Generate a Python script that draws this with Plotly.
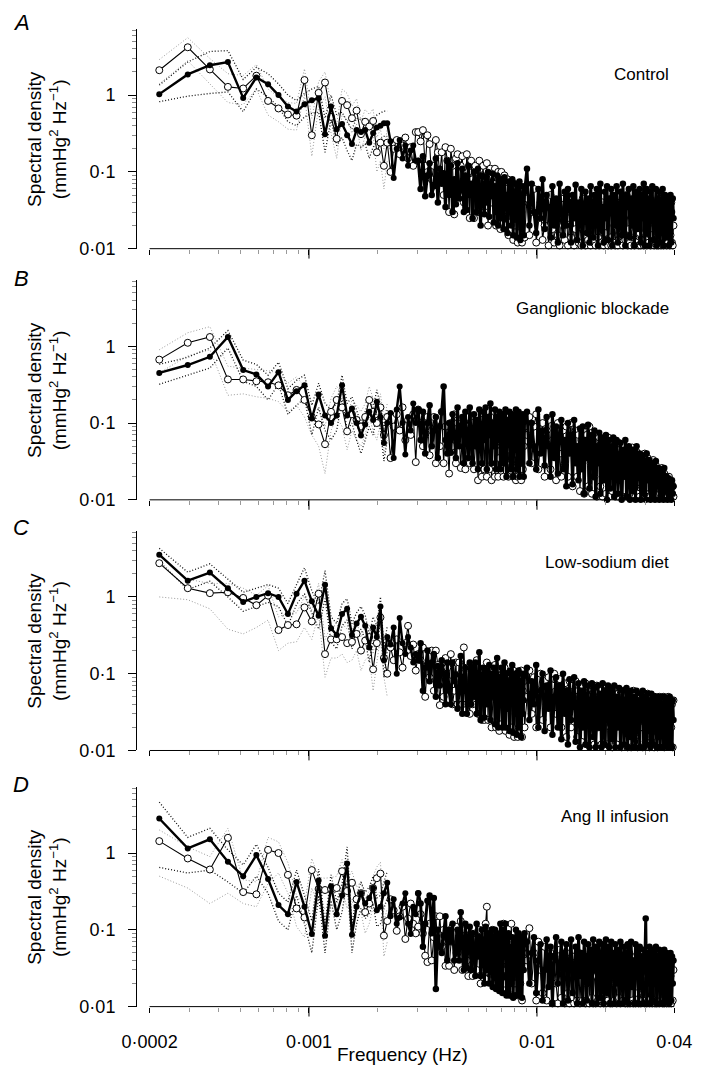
import math
import plotly.graph_objects as go

# ---------------- data ----------------
F0 = 0.0000735  # fundamental frequency of the spectra (Hz)
K = list(range(3, 121)) + list(range(123, 301, 3)) + list(range(304, 541, 4))
FREQ = [F0 * k for k in K]
NB = 28
FREQ_BAND = FREQ[:NB]
N_LOW = 38  # harmonics 3..40 are drawn as separate, resolved points

X_TICKS = [0.0002, 0.001, 0.01, 0.04]
X_TICKTEXT = ["0·0002", "0·001", "0·01", "0·04"]
X_MINOR = [0.0003, 0.0004, 0.0005, 0.0006, 0.0007, 0.0008, 0.0009,
           0.002, 0.003, 0.004, 0.005, 0.006, 0.007, 0.008, 0.009, 0.02, 0.03]
Y_TICKS = [0.01, 0.1, 1]
Y_TICKTEXT = ["0·01", "0·1", "1"]
Y_MINOR = [0.02, 0.03, 0.04, 0.05, 0.06, 0.07, 0.08, 0.09,
           0.2, 0.3, 0.4, 0.5, 0.6, 0.7, 0.8, 0.9, 2, 3, 4, 5, 6, 7]
PANEL_LETTERS = ["A", "B", "C", "D"]
CONDITIONS = ["Control", "Ganglionic blockade", "Low-sodium diet", "Ang II infusion"]

# ---- A: Control ----
A_FILLED_LOW = [1.03, 1.86, 2.45, 2.7, 0.92, 1.7, 1.39, 1.0, 0.71, 0.61,
                0.76, 0.86, 0.91, 0.31, 0.71, 0.36, 0.42, 0.30, 0.23, 0.35,
                0.33, 0.35, 0.24, 0.32, 0.38, 0.40, 0.43, 0.43, 0.25, 0.083,
                0.20, 0.26, 0.15, 0.22, 0.12, 0.19, 0.22, 0.14]
A_FILLED_MID = [0.14, 0.06, 0.16, 0.048, 0.09, 0.13, 0.05, 0.065, 0.15, 0.04,
                0.11, 0.07, 0.096, 0.035, 0.14, 0.05, 0.12, 0.03, 0.08, 0.038,
                0.13, 0.045, 0.06, 0.11, 0.03, 0.09, 0.032, 0.12, 0.05, 0.07,
                0.025, 0.1, 0.076, 0.03, 0.11, 0.045, 0.02, 0.09, 0.06, 0.028,
                0.085, 0.04, 0.1, 0.026, 0.07, 0.05, 0.095, 0.022, 0.065, 0.03,
                0.09, 0.02, 0.06, 0.08, 0.025, 0.07, 0.018, 0.085, 0.035, 0.05,
                0.016, 0.075, 0.03, 0.065, 0.02, 0.08, 0.015, 0.055, 0.04, 0.07,
                0.014, 0.06, 0.025, 0.075, 0.013, 0.05, 0.03, 0.065, 0.015, 0.055]
A_FILLED_HIGH = [0.11, 0.02, 0.07, 0.03, 0.016, 0.06, 0.025, 0.08, 0.018, 0.05,
                 0.035, 0.014, 0.065, 0.02, 0.045, 0.012, 0.07, 0.03, 0.015, 0.055,
                 0.02, 0.06, 0.04, 0.012, 0.05, 0.025, 0.068, 0.013, 0.04, 0.02,
                 0.06, 0.011, 0.035, 0.055, 0.016, 0.045, 0.012, 0.065, 0.03, 0.014,
                 0.05, 0.02, 0.06, 0.011, 0.04, 0.07, 0.018, 0.035, 0.012, 0.055,
                 0.025, 0.065, 0.013, 0.045, 0.03, 0.06, 0.011, 0.05, 0.02, 0.04,
                 0.065, 0.012, 0.03, 0.055, 0.015, 0.07, 0.025, 0.011, 0.05, 0.035,
                 0.06, 0.014, 0.045, 0.02, 0.065, 0.011, 0.04, 0.055, 0.018, 0.03,
                 0.06, 0.012, 0.05, 0.025, 0.07, 0.011, 0.035, 0.06, 0.016, 0.045,
                 0.011, 0.055, 0.03, 0.065, 0.013, 0.04, 0.02, 0.06, 0.011, 0.045,
                 0.035, 0.055, 0.012, 0.04, 0.025, 0.06, 0.011, 0.03, 0.05, 0.014,
                 0.045, 0.02, 0.04, 0.011, 0.035, 0.05, 0.012, 0.03, 0.045, 0.025]
A_OPEN_LOW = [2.11, 4.2, 2.16, 1.28, 1.22, 1.79, 0.84, 0.67, 0.56, 0.54,
              1.57, 0.30, 1.07, 1.46, 0.52, 0.27, 0.84, 0.74, 0.50, 0.63,
              0.31, 0.45, 0.39, 0.46, 0.18, 0.24, 0.12, 0.24, 0.10, 0.20,
              0.26, 0.17, 0.22, 0.28, 0.15, 0.21, 0.12, 0.33]
A_OPEN_MID = [0.33, 0.25, 0.35, 0.12, 0.3, 0.23, 0.08, 0.12, 0.26, 0.18,
              0.09, 0.18, 0.05, 0.21, 0.14, 0.03, 0.2, 0.12, 0.028, 0.15,
              0.17, 0.05, 0.12, 0.16, 0.04, 0.06, 0.17, 0.1, 0.025, 0.14,
              0.08, 0.025, 0.12, 0.1, 0.03, 0.14, 0.05, 0.09, 0.12, 0.03,
              0.08, 0.13, 0.02, 0.06, 0.11, 0.04, 0.09, 0.07, 0.11, 0.02,
              0.035, 0.1, 0.07, 0.018, 0.1, 0.03, 0.06, 0.09, 0.02, 0.06,
              0.08, 0.015, 0.05, 0.022, 0.07, 0.05, 0.013, 0.07, 0.02, 0.04,
              0.06, 0.012, 0.045, 0.016, 0.035, 0.06, 0.012, 0.04, 0.05, 0.014]
A_OPEN_HIGH = [0.045, 0.015, 0.03, 0.06, 0.012, 0.025, 0.04, 0.013, 0.02, 0.035,
               0.011, 0.05, 0.018, 0.012, 0.03, 0.015, 0.011, 0.045, 0.02, 0.013,
               0.035, 0.011, 0.025, 0.014, 0.04, 0.011, 0.018, 0.03, 0.012, 0.022,
               0.011, 0.045, 0.015, 0.011, 0.025, 0.013, 0.035, 0.011, 0.02, 0.012,
               0.03, 0.011, 0.05, 0.014, 0.011, 0.022, 0.012, 0.04, 0.011, 0.016,
               0.012, 0.028, 0.011, 0.035, 0.014, 0.011, 0.045, 0.012, 0.02, 0.011,
               0.03, 0.011, 0.015, 0.04, 0.012, 0.011, 0.025, 0.013, 0.05, 0.011,
               0.018, 0.012, 0.011, 0.035, 0.014, 0.011, 0.022, 0.012, 0.04, 0.011,
               0.016, 0.011, 0.03, 0.012, 0.011, 0.045, 0.013, 0.011, 0.02, 0.012,
               0.035, 0.011, 0.015, 0.012, 0.028, 0.011, 0.04, 0.012, 0.011, 0.02,
               0.011, 0.03, 0.012, 0.011, 0.045, 0.014, 0.011, 0.022, 0.012, 0.035,
               0.011, 0.018, 0.012, 0.03, 0.011, 0.015, 0.04, 0.012, 0.011, 0.02]
A_FILLED_UP = [1.35, 2.7, 3.7, 3.8, 1.6, 2.3, 1.9, 1.4, 1.0, 0.85, 1.05, 1.2, 1.3, 0.5,
               1.0, 0.55, 0.6, 0.45, 0.36, 0.5, 0.48, 0.5, 0.36, 0.46, 0.55, 0.58, 0.62, 0.62]
A_FILLED_DN = [0.82, 0.97, 1.05, 1.1, 0.61, 1.2, 0.95, 0.7, 0.45, 0.4, 0.52, 0.58, 0.6, 0.18,
               0.48, 0.22, 0.28, 0.19, 0.14, 0.23, 0.21, 0.23, 0.15, 0.21, 0.25, 0.27, 0.29, 0.29]
A_OPEN_UP = [2.9, 5.6, 3.0, 1.9, 1.8, 2.5, 1.2, 0.95, 0.8, 0.78, 2.2, 0.5, 1.5, 2.0,
             0.75, 0.42, 1.2, 1.05, 0.72, 0.9, 0.46, 0.65, 0.56, 0.66, 0.28, 0.36, 0.2, 0.36]
A_OPEN_DN = [1.4, 2.8, 1.4, 0.8, 0.75, 1.2, 0.55, 0.45, 0.36, 0.35, 1.0, 0.16, 0.7, 0.95,
             0.32, 0.15, 0.55, 0.48, 0.32, 0.42, 0.19, 0.29, 0.25, 0.3, 0.1, 0.14, 0.06, 0.14]

# ---- B: Ganglionic blockade ----
B_FILLED_LOW = [0.45, 0.57, 0.73, 1.32, 0.49, 0.43, 0.30, 0.46, 0.20, 0.26,
                0.31, 0.115, 0.235, 0.125, 0.10, 0.125, 0.31, 0.125, 0.155, 0.10,
                0.069, 0.096, 0.14, 0.11, 0.19, 0.12, 0.055, 0.10, 0.135, 0.035,
                0.15, 0.30, 0.10, 0.039, 0.12, 0.08, 0.18, 0.10]
B_FILLED_MID = [0.15, 0.06, 0.14, 0.04, 0.1, 0.17, 0.05, 0.08, 0.12, 0.035,
                0.09, 0.14, 0.3, 0.06, 0.04, 0.1, 0.041, 0.13, 0.07, 0.035,
                0.16, 0.05, 0.09, 0.12, 0.03, 0.14, 0.06, 0.035, 0.16, 0.08,
                0.03, 0.13, 0.05, 0.11, 0.025, 0.15, 0.07, 0.03, 0.14, 0.06,
                0.16, 0.025, 0.12, 0.07, 0.18, 0.03, 0.1, 0.05, 0.15, 0.025,
                0.12, 0.06, 0.14, 0.025, 0.09, 0.13, 0.03, 0.1, 0.15, 0.02,
                0.11, 0.06, 0.14, 0.025, 0.08, 0.13, 0.02, 0.12, 0.05, 0.15,
                0.025, 0.1, 0.14, 0.02, 0.07, 0.12, 0.03, 0.13, 0.02, 0.11]
B_FILLED_HIGH = [0.14, 0.03, 0.1, 0.05, 0.025, 0.15, 0.04, 0.08, 0.028, 0.12,
                 0.05, 0.02, 0.13, 0.035, 0.09, 0.022, 0.07, 0.11, 0.025, 0.06,
                 0.015, 0.1, 0.04, 0.07, 0.016, 0.11, 0.03, 0.05, 0.018, 0.085,
                 0.025, 0.09, 0.012, 0.06, 0.035, 0.095, 0.014, 0.05, 0.07, 0.02,
                 0.08, 0.011, 0.05, 0.03, 0.075, 0.012, 0.045, 0.065, 0.018, 0.04,
                 0.07, 0.01, 0.035, 0.06, 0.014, 0.05, 0.02, 0.065, 0.011, 0.04,
                 0.06, 0.012, 0.03, 0.055, 0.01, 0.045, 0.02, 0.06, 0.011, 0.035,
                 0.05, 0.01, 0.03, 0.045, 0.013, 0.04, 0.01, 0.05, 0.02, 0.035,
                 0.04, 0.01, 0.025, 0.038, 0.012, 0.032, 0.01, 0.04, 0.018, 0.028,
                 0.033, 0.01, 0.022, 0.03, 0.011, 0.027, 0.01, 0.032, 0.015, 0.024,
                 0.026, 0.01, 0.018, 0.025, 0.011, 0.022, 0.01, 0.026, 0.013, 0.02,
                 0.02, 0.01, 0.015, 0.019, 0.011, 0.017, 0.01, 0.018, 0.012, 0.015]
B_OPEN_LOW = [0.67, 1.11, 1.32, 0.37, 0.37, 0.35, 0.34, 0.31, 0.23, 0.27,
              0.20, 0.12, 0.096, 0.053, 0.14, 0.20, 0.16, 0.078, 0.13, 0.11,
              0.09, 0.12, 0.20, 0.14, 0.10, 0.16, 0.07, 0.12, 0.035, 0.09,
              0.13, 0.08, 0.16, 0.06, 0.11, 0.07, 0.13, 0.031]
B_OPEN_MID = [0.15, 0.1, 0.05, 0.07, 0.12, 0.038, 0.08, 0.12, 0.03, 0.09,
              0.05, 0.14, 0.03, 0.09, 0.06, 0.022, 0.1, 0.05, 0.13, 0.03,
              0.1, 0.07, 0.026, 0.08, 0.11, 0.025, 0.09, 0.12, 0.03, 0.07,
              0.1, 0.025, 0.06, 0.09, 0.018, 0.07, 0.11, 0.02, 0.08, 0.025,
              0.1, 0.02, 0.07, 0.025, 0.12, 0.018, 0.09, 0.06, 0.02, 0.08,
              0.11, 0.02, 0.035, 0.08, 0.05, 0.1, 0.02, 0.07, 0.12, 0.03,
              0.045, 0.02, 0.08, 0.06, 0.03, 0.09, 0.02, 0.1, 0.04, 0.018,
              0.07, 0.02, 0.09, 0.03, 0.06, 0.018, 0.08, 0.025, 0.05, 0.09]
B_OPEN_HIGH = [0.07, 0.12, 0.03, 0.09, 0.13, 0.025, 0.06, 0.1, 0.02, 0.08,
               0.11, 0.025, 0.06, 0.09, 0.018, 0.1, 0.04, 0.02, 0.08, 0.03,
               0.09, 0.02, 0.06, 0.1, 0.015, 0.05, 0.08, 0.02, 0.07, 0.013,
               0.06, 0.08, 0.012, 0.045, 0.07, 0.015, 0.09, 0.03, 0.012, 0.06,
               0.02, 0.07, 0.011, 0.05, 0.065, 0.015, 0.04, 0.011, 0.06, 0.025,
               0.012, 0.05, 0.065, 0.011, 0.03, 0.055, 0.013, 0.04, 0.06, 0.011,
               0.045, 0.011, 0.055, 0.02, 0.04, 0.011, 0.05, 0.03, 0.011, 0.045,
               0.013, 0.04, 0.011, 0.048, 0.02, 0.035, 0.011, 0.042, 0.012, 0.03,
               0.011, 0.038, 0.015, 0.03, 0.011, 0.04, 0.012, 0.025, 0.035, 0.011,
               0.03, 0.011, 0.025, 0.012, 0.033, 0.011, 0.02, 0.028, 0.011, 0.025,
               0.011, 0.024, 0.012, 0.02, 0.026, 0.011, 0.018, 0.022, 0.011, 0.02,
               0.012, 0.018, 0.011, 0.02, 0.014, 0.011, 0.017, 0.012, 0.015, 0.011]
B_FILLED_UP = [0.58, 0.72, 0.95, 1.6, 0.66, 0.58, 0.42, 0.62, 0.28, 0.36, 0.42, 0.17, 0.33, 0.18,
               0.15, 0.18, 0.42, 0.18, 0.22, 0.15, 0.1, 0.14, 0.2, 0.16, 0.27, 0.17, 0.085, 0.15]
B_FILLED_DN = [0.32, 0.42, 0.52, 0.95, 0.35, 0.3, 0.2, 0.32, 0.13, 0.17, 0.21, 0.07, 0.16, 0.08,
               0.06, 0.08, 0.21, 0.08, 0.1, 0.06, 0.04, 0.06, 0.09, 0.07, 0.13, 0.08, 0.032, 0.06]
B_OPEN_UP = [0.9, 1.5, 1.8, 0.55, 0.52, 0.5, 0.48, 0.45, 0.33, 0.4, 0.3, 0.18, 0.15, 0.09,
             0.21, 0.3, 0.24, 0.12, 0.2, 0.17, 0.14, 0.18, 0.3, 0.21, 0.15, 0.24, 0.11, 0.18]
B_OPEN_DN = [0.45, 0.75, 0.9, 0.23, 0.24, 0.22, 0.21, 0.19, 0.14, 0.17, 0.12, 0.07, 0.05, 0.022,
             0.08, 0.12, 0.09, 0.045, 0.08, 0.06, 0.05, 0.07, 0.12, 0.08, 0.06, 0.1, 0.04, 0.07]

# ---- C: Low-sodium diet ----
C_FILLED_LOW = [3.55, 1.63, 2.08, 1.30, 0.86, 1.0, 1.12, 1.0, 0.60, 1.1,
                1.63, 0.88, 0.57, 1.44, 0.39, 0.32, 0.60, 0.70, 0.32, 0.45,
                0.55, 0.42, 0.22, 0.40, 0.30, 0.75, 0.15, 0.30, 0.24, 0.40,
                0.10, 0.53, 0.25, 0.18, 0.30, 0.22, 0.14, 0.18]
C_FILLED_MID = [0.15, 0.25, 0.06, 0.12, 0.2, 0.08, 0.14, 0.18, 0.05, 0.126,
                0.07, 0.15, 0.1, 0.04, 0.14, 0.06, 0.04, 0.14, 0.08, 0.098,
                0.035, 0.06, 0.17, 0.03, 0.09, 0.12, 0.03, 0.05, 0.14, 0.04,
                0.12, 0.05, 0.14, 0.03, 0.1, 0.19, 0.025, 0.08, 0.12, 0.027,
                0.11, 0.04, 0.07, 0.13, 0.025, 0.1, 0.05, 0.12, 0.022, 0.1,
                0.16, 0.02, 0.09, 0.04, 0.12, 0.02, 0.06, 0.14, 0.02, 0.1,
                0.035, 0.08, 0.018, 0.11, 0.05, 0.13, 0.017, 0.09, 0.03, 0.1,
                0.016, 0.07, 0.11, 0.02, 0.08, 0.015, 0.1, 0.03, 0.045, 0.1]
C_FILLED_HIGH = [0.12, 0.025, 0.08, 0.04, 0.13, 0.02, 0.06, 0.1, 0.018, 0.07,
                 0.035, 0.11, 0.016, 0.05, 0.09, 0.02, 0.07, 0.014, 0.1, 0.03,
                 0.06, 0.012, 0.085, 0.025, 0.05, 0.09, 0.013, 0.04, 0.075, 0.011,
                 0.06, 0.02, 0.08, 0.012, 0.045, 0.07, 0.011, 0.03, 0.075, 0.015,
                 0.065, 0.011, 0.04, 0.07, 0.02, 0.055, 0.011, 0.075, 0.03, 0.012,
                 0.06, 0.025, 0.07, 0.011, 0.045, 0.065, 0.014, 0.035, 0.07, 0.011,
                 0.05, 0.02, 0.065, 0.011, 0.04, 0.06, 0.012, 0.03, 0.065, 0.011,
                 0.055, 0.015, 0.06, 0.011, 0.035, 0.05, 0.011, 0.06, 0.02, 0.045,
                 0.011, 0.055, 0.025, 0.06, 0.011, 0.04, 0.05, 0.012, 0.055, 0.018,
                 0.045, 0.011, 0.055, 0.03, 0.012, 0.05, 0.02, 0.045, 0.011, 0.05,
                 0.015, 0.045, 0.011, 0.05, 0.025, 0.04, 0.011, 0.05, 0.012, 0.04,
                 0.02, 0.045, 0.011, 0.035, 0.05, 0.012, 0.04, 0.011, 0.045, 0.025]
C_OPEN_LOW = [2.75, 1.30, 1.12, 1.15, 0.97, 0.78, 1.04, 0.37, 0.43, 0.44,
              0.73, 0.48, 1.10, 0.18, 0.28, 0.28, 0.30, 0.25, 0.26, 0.33,
              0.20, 0.27, 0.30, 0.114, 0.25, 0.54, 0.16, 0.10, 0.22, 0.15,
              0.28, 0.19, 0.12, 0.25, 0.42, 0.17, 0.24, 0.11]
C_OPEN_MID = [0.18, 0.15, 0.22, 0.05, 0.13, 0.09, 0.2, 0.06, 0.2, 0.13,
              0.039, 0.12, 0.05, 0.16, 0.12, 0.08, 0.18, 0.04, 0.06, 0.14,
              0.04, 0.14, 0.1, 0.04, 0.22, 0.07, 0.12, 0.04, 0.03, 0.12,
              0.04, 0.1, 0.06, 0.15, 0.03, 0.09, 0.06, 0.025, 0.09, 0.025,
              0.09, 0.14, 0.025, 0.08, 0.11, 0.02, 0.05, 0.08, 0.13, 0.02,
              0.09, 0.05, 0.018, 0.07, 0.022, 0.1, 0.07, 0.12, 0.018, 0.04,
              0.08, 0.1, 0.016, 0.05, 0.07, 0.02, 0.11, 0.015, 0.06, 0.08,
              0.1, 0.015, 0.05, 0.07, 0.04, 0.11, 0.015, 0.06, 0.08, 0.02]
C_OPEN_HIGH = [0.05, 0.11, 0.03, 0.09, 0.02, 0.06, 0.1, 0.025, 0.08, 0.04,
               0.09, 0.02, 0.07, 0.1, 0.03, 0.06, 0.085, 0.02, 0.05, 0.075,
               0.015, 0.06, 0.08, 0.02, 0.07, 0.04, 0.08, 0.015, 0.06, 0.05,
               0.013, 0.07, 0.04, 0.075, 0.012, 0.05, 0.065, 0.02, 0.07, 0.04,
               0.012, 0.06, 0.07, 0.02, 0.05, 0.065, 0.012, 0.045, 0.07, 0.025,
               0.06, 0.012, 0.05, 0.065, 0.02, 0.055, 0.011, 0.06, 0.04, 0.065,
               0.012, 0.055, 0.03, 0.06, 0.011, 0.045, 0.06, 0.02, 0.05, 0.011,
               0.055, 0.04, 0.011, 0.05, 0.06, 0.015, 0.045, 0.055, 0.011, 0.04,
               0.05, 0.02, 0.055, 0.011, 0.045, 0.05, 0.013, 0.04, 0.055, 0.02,
               0.011, 0.045, 0.05, 0.015, 0.04, 0.011, 0.05, 0.035, 0.045, 0.011,
               0.04, 0.05, 0.013, 0.045, 0.02, 0.04, 0.05, 0.011, 0.035, 0.045,
               0.015, 0.04, 0.05, 0.012, 0.035, 0.045, 0.02, 0.04, 0.011, 0.045]
C_FILLED_UP = [4.3, 2.1, 2.7, 1.7, 1.15, 1.3, 1.45, 1.3, 0.82, 1.45, 2.4, 1.2, 0.8, 2.2,
               0.55, 0.45, 0.82, 0.95, 0.45, 0.62, 0.75, 0.58, 0.32, 0.55, 0.42, 1.0, 0.22, 0.42]
C_FILLED_DN = [2.9, 1.25, 1.6, 1.0, 0.65, 0.75, 0.85, 0.75, 0.42, 0.8, 1.1, 0.62, 0.38, 0.95,
               0.26, 0.21, 0.42, 0.5, 0.21, 0.31, 0.38, 0.28, 0.14, 0.27, 0.2, 0.52, 0.09, 0.2]
C_OPEN_UP = [3.4, 1.7, 1.5, 1.5, 1.3, 1.05, 1.4, 0.55, 0.62, 0.62, 1.0, 0.68, 1.5, 0.28,
             0.42, 0.42, 0.45, 0.38, 0.38, 0.48, 0.3, 0.4, 0.44, 0.18, 0.37, 0.78, 0.24, 0.16]
C_OPEN_DN = [1.0, 0.92, 0.7, 0.38, 0.33, 0.4, 0.5, 0.2, 0.25, 0.26, 0.4, 0.28, 0.6, 0.09,
             0.16, 0.16, 0.18, 0.14, 0.15, 0.2, 0.11, 0.15, 0.17, 0.06, 0.14, 0.3, 0.09, 0.05]

# ---- D: Ang II infusion ----
D_FILLED_LOW = [2.82, 1.15, 1.51, 0.77, 0.50, 0.94, 0.46, 0.21, 0.16, 0.42,
                0.20, 0.088, 0.44, 0.084, 0.37, 0.16, 0.28, 0.73, 0.086, 0.20,
                0.30, 0.22, 0.26, 0.35, 0.18, 0.20, 0.30, 0.41, 0.15, 0.25,
                0.12, 0.145, 0.22, 0.30, 0.12, 0.088, 0.20, 0.16]
D_FILLED_MID = [0.3, 0.22, 0.06, 0.12, 0.24, 0.28, 0.09, 0.26, 0.017, 0.1,
                0.06, 0.05, 0.084, 0.15, 0.04, 0.1, 0.07, 0.12, 0.04, 0.05,
                0.1, 0.04, 0.17, 0.06, 0.03, 0.12, 0.032, 0.08, 0.11, 0.03,
                0.09, 0.05, 0.025, 0.12, 0.045, 0.08, 0.025, 0.1, 0.06, 0.02,
                0.11, 0.03, 0.09, 0.02, 0.08, 0.1, 0.018, 0.06, 0.1, 0.017,
                0.09, 0.04, 0.016, 0.12, 0.05, 0.015, 0.1, 0.06, 0.12, 0.014,
                0.07, 0.09, 0.014, 0.06, 0.02, 0.08, 0.013, 0.07, 0.04, 0.1,
                0.014, 0.06, 0.09, 0.015, 0.05, 0.08, 0.013, 0.07, 0.03, 0.09]
D_FILLED_HIGH = [0.07, 0.02, 0.05, 0.08, 0.015, 0.04, 0.065, 0.012, 0.03, 0.075,
                 0.018, 0.06, 0.011, 0.045, 0.08, 0.02, 0.035, 0.07, 0.011, 0.05,
                 0.065, 0.012, 0.04, 0.075, 0.015, 0.03, 0.06, 0.011, 0.08, 0.025,
                 0.05, 0.011, 0.07, 0.035, 0.012, 0.065, 0.02, 0.055, 0.011, 0.075,
                 0.03, 0.06, 0.011, 0.045, 0.07, 0.013, 0.04, 0.065, 0.011, 0.05,
                 0.075, 0.015, 0.035, 0.06, 0.011, 0.07, 0.025, 0.05, 0.011, 0.065,
                 0.02, 0.055, 0.011, 0.07, 0.035, 0.011, 0.06, 0.045, 0.012, 0.065,
                 0.011, 0.05, 0.07, 0.018, 0.04, 0.011, 0.065, 0.03, 0.055, 0.011,
                 0.06, 0.02, 0.045, 0.011, 0.055, 0.03, 0.14, 0.011, 0.05, 0.02,
                 0.06, 0.011, 0.04, 0.055, 0.012, 0.05, 0.025, 0.06, 0.011, 0.045,
                 0.03, 0.055, 0.011, 0.05, 0.02, 0.045, 0.011, 0.055, 0.035, 0.012,
                 0.05, 0.015, 0.045, 0.011, 0.04, 0.05, 0.012, 0.045, 0.02, 0.04]
D_OPEN_LOW = [1.43, 0.85, 0.61, 1.58, 0.31, 0.29, 1.1, 1.0, 0.52, 0.19,
              0.145, 0.60, 0.34, 0.33, 0.34, 0.35, 0.58, 0.32, 0.41, 0.25,
              0.30, 0.17, 0.22, 0.35, 0.47, 0.54, 0.084, 0.13, 0.25, 0.18,
              0.097, 0.15, 0.20, 0.076, 0.14, 0.22, 0.12, 0.09]
D_OPEN_MID = [0.11, 0.16, 0.09, 0.046, 0.038, 0.12, 0.04, 0.08, 0.15, 0.06,
              0.15, 0.06, 0.1, 0.034, 0.07, 0.034, 0.07, 0.11, 0.03, 0.11,
              0.05, 0.09, 0.13, 0.03, 0.07, 0.1, 0.04, 0.025, 0.06, 0.09,
              0.025, 0.05, 0.09, 0.03, 0.06, 0.1, 0.02, 0.05, 0.08, 0.03,
              0.12, 0.2, 0.04, 0.027, 0.027, 0.07, 0.1, 0.02, 0.04, 0.06,
              0.025, 0.05, 0.08, 0.02, 0.06, 0.03, 0.12, 0.02, 0.04, 0.06,
              0.015, 0.045, 0.07, 0.02, 0.12, 0.014, 0.04, 0.06, 0.02, 0.045,
              0.07, 0.014, 0.04, 0.06, 0.02, 0.035, 0.012, 0.05, 0.04, 0.06]
D_OPEN_HIGH = [0.04, 0.105, 0.02, 0.05, 0.012, 0.07, 0.03, 0.015, 0.06, 0.012,
               0.035, 0.05, 0.011, 0.045, 0.02, 0.011, 0.055, 0.013, 0.04, 0.011,
               0.05, 0.015, 0.011, 0.035, 0.045, 0.011, 0.025, 0.012, 0.05, 0.011,
               0.03, 0.012, 0.04, 0.011, 0.02, 0.045, 0.011, 0.03, 0.013, 0.011,
               0.04, 0.011, 0.025, 0.012, 0.035, 0.011, 0.045, 0.014, 0.011, 0.03,
               0.011, 0.04, 0.012, 0.02, 0.011, 0.035, 0.011, 0.045, 0.012, 0.025,
               0.011, 0.035, 0.013, 0.011, 0.04, 0.012, 0.028, 0.011, 0.035, 0.011,
               0.02, 0.011, 0.045, 0.012, 0.011, 0.03, 0.011, 0.04, 0.015, 0.011,
               0.035, 0.011, 0.025, 0.012, 0.045, 0.011, 0.03, 0.011, 0.04, 0.012,
               0.011, 0.03, 0.02, 0.011, 0.04, 0.012, 0.011, 0.035, 0.011, 0.025,
               0.045, 0.011, 0.02, 0.012, 0.035, 0.011, 0.04, 0.011, 0.025, 0.012,
               0.011, 0.045, 0.02, 0.011, 0.035, 0.025, 0.011, 0.04, 0.012, 0.03]
D_FILLED_UP = [4.6, 1.6, 2.1, 1.1, 0.7, 1.3, 0.65, 0.3, 0.23, 0.6, 0.28, 0.13, 0.62, 0.12,
               0.52, 0.23, 0.4, 1.2, 0.12, 0.28, 0.42, 0.31, 0.36, 0.5, 0.26, 0.28, 0.42, 0.58]
D_FILLED_DN = [0.65, 0.55, 0.6, 0.42, 0.3, 0.5, 0.3, 0.13, 0.1, 0.28, 0.12, 0.05, 0.28, 0.05,
               0.24, 0.1, 0.17, 0.45, 0.05, 0.12, 0.19, 0.14, 0.16, 0.22, 0.11, 0.12, 0.19, 0.26]
D_OPEN_UP = [2.0, 1.2, 0.9, 2.1, 0.45, 0.42, 1.6, 1.4, 0.75, 0.28, 0.21, 0.85, 0.48, 0.47,
             0.48, 0.5, 0.82, 0.45, 0.58, 0.36, 0.43, 0.25, 0.32, 0.5, 0.66, 0.76, 0.13, 0.19]
D_OPEN_DN = [0.5, 0.35, 0.22, 0.3, 0.22, 0.2, 0.4, 0.55, 0.3, 0.11, 0.08, 0.35, 0.2, 0.19,
             0.2, 0.21, 0.34, 0.19, 0.25, 0.14, 0.17, 0.09, 0.12, 0.2, 0.28, 0.32, 0.045, 0.07]

PANELS = [
    (A_FILLED_LOW + A_FILLED_MID + A_FILLED_HIGH, A_OPEN_LOW + A_OPEN_MID + A_OPEN_HIGH,
     A_FILLED_UP, A_FILLED_DN, A_OPEN_UP, A_OPEN_DN),
    (B_FILLED_LOW + B_FILLED_MID + B_FILLED_HIGH, B_OPEN_LOW + B_OPEN_MID + B_OPEN_HIGH,
     B_FILLED_UP, B_FILLED_DN, B_OPEN_UP, B_OPEN_DN),
    (C_FILLED_LOW + C_FILLED_MID + C_FILLED_HIGH, C_OPEN_LOW + C_OPEN_MID + C_OPEN_HIGH,
     C_FILLED_UP, C_FILLED_DN, C_OPEN_UP, C_OPEN_DN),
    (D_FILLED_LOW + D_FILLED_MID + D_FILLED_HIGH, D_OPEN_LOW + D_OPEN_MID + D_OPEN_HIGH,
     D_FILLED_UP, D_FILLED_DN, D_OPEN_UP, D_OPEN_DN),
]

# ---------------- layout geometry ----------------
W, H = 705, 1082
ML, MR = 137, 25
PW = W - ML - MR
PX_PER_DEC_X = 228.0
XR = [-3.7543, -3.7543 + PW / PX_PER_DEC_X]
YR = [-2.0, 0.86]
PX_PER_DEC_Y = 77.5
PANEL_H = (YR[1] - YR[0]) * PX_PER_DEC_Y
BOTTOMS = [251, 504.5, 757.5, 1016]
LABEL_Y = [75, 311, 568, 824]
LETTER_Y = [23, 281, 532, 792]
FONT = "Liberation Sans, Arial, Helvetica, sans-serif"


def paper_y(px):
    return 1 - px / H


def paper_x(px):
    return (px - ML) / PW


def xfrac(v):
    return (math.log10(v) - XR[0]) / (XR[1] - XR[0])


fig = go.Figure()
shapes = []
annotations = []

for i, (filled, opened, fup, fdn, oup, odn) in enumerate(PANELS):
    n = i + 1
    xa = "x" if n == 1 else f"x{n}"
    ya = "y" if n == 1 else f"y{n}"
    m = min(len(FREQ), len(filled), len(opened))
    for band, col, w in ((oup, "#9a9a9a", 1.0), (odn, "#9a9a9a", 1.0),
                         (fup, "#111111", 1.3), (fdn, "#111111", 1.3)):
        fig.add_trace(go.Scatter(x=FREQ_BAND[:len(band)], y=band, mode="lines",
                                 line=dict(color=col, width=w, dash="1px,2px"),
                                 xaxis=xa, yaxis=ya, showlegend=False, hoverinfo="skip"))
    fig.add_trace(go.Scatter(
        x=FREQ[:m], y=opened[:m], mode="lines+markers",
        line=dict(color="black", width=1.1),
        marker=dict(symbol="circle", size=7, color="white", line=dict(color="black", width=1)),
        xaxis=xa, yaxis=ya, showlegend=False, cliponaxis=False))
    # filled series: resolved low-frequency part, then the dense high-frequency part
    fig.add_trace(go.Scatter(
        x=FREQ[:N_LOW + 1], y=filled[:N_LOW + 1], mode="lines+markers",
        line=dict(color="black", width=2.4),
        marker=dict(symbol="circle", size=6, color="black"),
        xaxis=xa, yaxis=ya, showlegend=False, cliponaxis=False))
    fig.add_trace(go.Scatter(
        x=FREQ[N_LOW:m], y=filled[N_LOW:m], mode="lines+markers",
        line=dict(color="black", width=3.0),
        marker=dict(symbol="circle", size=6.5, color="black"),
        xaxis=xa, yaxis=ya, showlegend=False, cliponaxis=False))

    bottom = BOTTOMS[i]
    top = bottom - PANEL_H
    xkey = "xaxis" if n == 1 else f"xaxis{n}"
    ykey = "yaxis" if n == 1 else f"yaxis{n}"
    fig.layout[xkey] = dict(
        type="log", range=XR, domain=[0, 1], anchor=ya,
        showline=False, showgrid=False, zeroline=False,
        tickmode="array", tickvals=X_TICKS, ticktext=X_TICKTEXT,
        showticklabels=(n == 4), ticks="outside", ticklen=5, tickwidth=1,
        tickcolor="black", ticklabelstandoff=14,
        tickfont=dict(family=FONT, size=18, color="black"),
        minor=dict(tickmode="array", tickvals=X_MINOR, ticks="outside",
                   ticklen=4, tickwidth=1, tickcolor="#9a9a9a", showgrid=False),
    )
    fig.layout[ykey] = dict(
        type="log", range=YR, domain=[paper_y(bottom), paper_y(top)], anchor=xa,
        showline=True, linecolor="black", linewidth=1, showgrid=False, zeroline=False,
        tickmode="array", tickvals=Y_TICKS, ticktext=Y_TICKTEXT,
        ticks="outside", ticklen=8, tickwidth=1, tickcolor="black",
        ticklabelstandoff=9,
        tickfont=dict(family=FONT, size=18, color="black"),
        minor=dict(tickmode="array", tickvals=Y_MINOR, ticks="outside",
                   ticklen=4, tickwidth=1, tickcolor="#8a8a8a", showgrid=False),
    )
    shapes.append(dict(type="line", xref=f"{xa} domain", yref=f"{ya} domain",
                       x0=xfrac(X_TICKS[0]), x1=xfrac(X_TICKS[-1]), y0=0, y1=0,
                       line=dict(color="black", width=1)))
    for v in X_TICKS[1:3]:
        shapes.append(dict(type="line", xref=f"{xa} domain", yref=f"{ya} domain",
                           x0=xfrac(v), x1=xfrac(v), y0=0, y1=-10 / PANEL_H,
                           line=dict(color="black", width=1)))
    annotations.append(dict(
        text="Spectral density<br>(mmHg<sup>2</sup> Hz<sup>−1</sup>)",
        xref="paper", yref="paper", x=paper_x(47), y=paper_y(bottom - PANEL_H / 2),
        xanchor="center", yanchor="middle", textangle=-90, showarrow=False,
        font=dict(family=FONT, size=19, color="black")))
    annotations.append(dict(
        text=f"<i>{PANEL_LETTERS[i]}</i>", xref="paper", yref="paper",
        x=paper_x(21), y=paper_y(LETTER_Y[i]), xanchor="center", yanchor="middle",
        showarrow=False, font=dict(family=FONT, size=22, color="black")))
    annotations.append(dict(
        text=CONDITIONS[i], xref="paper", yref="paper",
        x=paper_x(671), y=paper_y(LABEL_Y[i]), xanchor="right", yanchor="middle",
        showarrow=False, font=dict(family=FONT, size=17, color="black")))

annotations.append(dict(
    text="Frequency (Hz)", xref="paper", yref="paper",
    x=paper_x(402), y=paper_y(1064), xanchor="center", yanchor="middle",
    showarrow=False, font=dict(family=FONT, size=19, color="black")))

fig.update_layout(
    width=W, height=H,
    margin=dict(l=ML, r=MR, t=0, b=0, pad=0),
    paper_bgcolor="white", plot_bgcolor="white",
    shapes=shapes, annotations=annotations,
    font=dict(family=FONT, color="black"),
    showlegend=False,
)

fig.write_html("out.html")
